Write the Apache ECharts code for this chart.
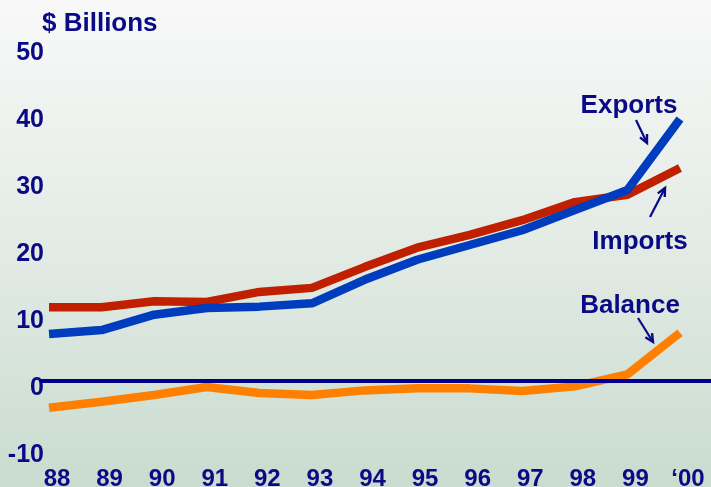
<!DOCTYPE html>
<html>
<head>
<meta charset="utf-8">
<script src="https://cdn.jsdelivr.net/npm/echarts@6/dist/echarts.min.js"></script>
<style>html,body{margin:0;padding:0;}#c{width:711px;height:487px;}</style>
</head>
<body>
<div id="c"></div>
<script>
var years = [88, 89, 90, 91, 92, 93, 94, 95, 96, 97, 98, 99, 100];
var yearLabels = ['88', '89', '90', '91', '92', '93', '94', '95', '96', '97', '98', '99', '\u201800'];
var exportsVals = [7.0, 7.6, 9.9, 10.9, 11.1, 11.6, 15.1, 18.1, 20.3, 22.5, 25.5, 28.5, 39.1];
var importsVals = [11.0, 11.0, 11.9, 11.8, 13.3, 13.9, 17.0, 19.9, 21.8, 24.0, 26.7, 27.8, 31.8];
var balanceVals = [-4.0, -3.1, -2.1, -0.9, -1.8, -2.1, -1.4, -1.1, -1.1, -1.5, -0.8, 1.0, 7.2];
var yTicks = [-10, 0, 10, 20, 30, 40, 50];

var NAVY = '#0a0a86';
var FONT = '"Liberation Sans", Arial, sans-serif';

function pairs(xs, ys) { return xs.map(function (x, i) { return [x, ys[i]]; }); }

function arrow(x1, y1, x2, y2) {
  var a = Math.atan2(y2 - y1, x2 - x1), L = 9, w = 0.45;
  return [
    { type: 'line', shape: { x1: x1, y1: y1, x2: x2, y2: y2 }, style: { stroke: NAVY, lineWidth: 2.2 }, z: 20 },
    { type: 'polyline', shape: { points: [
      [x2 - L * Math.cos(a - w), y2 - L * Math.sin(a - w)], [x2, y2],
      [x2 - L * Math.cos(a + w), y2 - L * Math.sin(a + w)]] },
      style: { stroke: NAVY, lineWidth: 2.4, fill: null }, z: 20 }
  ];
}
function label(text, cx, cy) {
  return { type: 'text', x: cx, y: cy, z: 20,
    style: { text: text, fill: NAVY, font: 'bold 26px ' + FONT, align: 'center', verticalAlign: 'middle' } };
}

var chart = echarts.init(document.getElementById('c'));
var pxPerYear = (680 - 49) / 12;
chart.setOption({
  animation: false,
  backgroundColor: { type: 'linear', x: 0, y: 0, x2: 0, y2: 1, colorStops: [
    { offset: 0, color: '#f8f9f8' }, { offset: 0.5, color: '#e3ebe5' }, { offset: 1, color: '#c9dccf' }] },
  grid: { left: 40, right: 0, top: 46, bottom: 39, containLabel: false, outerBoundsMode: 'none' },
  xAxis: {
    type: 'value',
    min: 88 - 9 / pxPerYear,
    max: 100 + 31 / pxPerYear,
    axisLine: { show: false }, axisTick: { show: false }, splitLine: { show: false },
    axisLabel: {
      customValues: years,
      formatter: function (v) { var i = years.indexOf(Math.round(v)); return i >= 0 ? yearLabels[i] : ''; },
      color: NAVY, fontWeight: 'bold', fontSize: 24, fontFamily: FONT,
      margin: 19, padding: [0, 0, 0, 16], showMinLabel: true, showMaxLabel: true
    }
  },
  yAxis: {
    type: 'value', min: -10, max: 50, interval: 10,
    axisLine: { show: false }, axisTick: { show: false }, splitLine: { show: false },
    axisLabel: { color: NAVY, fontWeight: 'bold', fontSize: 25, fontFamily: FONT, margin: -4,
      verticalAlign: 'top', lineHeight: 14 }
  },
  series: [
    { name: 'Imports', type: 'line', data: pairs(years, importsVals), symbol: 'none', z: 2,
      lineStyle: { color: '#c02000', width: 8.5 } },
    { name: 'Exports', type: 'line', data: pairs(years, exportsVals), symbol: 'none', z: 3,
      lineStyle: { color: '#003cbe', width: 8.5 } },
    { name: 'Balance', type: 'line', data: pairs(years, balanceVals), symbol: 'none', z: 3,
      lineStyle: { color: '#ff8000', width: 8.5 } },
    { name: 'zero', type: 'line', data: [], z: 5,
      markLine: { silent: true, symbol: 'none', label: { show: false },
        lineStyle: { color: '#00008c', width: 4, type: 'solid' }, data: [{ yAxis: 0 }] } }
  ],
  graphic: [
    { type: 'text', x: 42, y: 24, z: 20,
      style: { text: '$ Billions', fill: NAVY, font: 'bold 26px ' + FONT, align: 'left', verticalAlign: 'middle' } },
    label('Exports', 629, 106),
    label('Imports', 640, 242),
    label('Balance', 630, 306)
  ].concat(arrow(636, 120, 647, 143), arrow(650, 217, 665, 188), arrow(638, 318, 653, 342))
});
</script>
</body>
</html>
